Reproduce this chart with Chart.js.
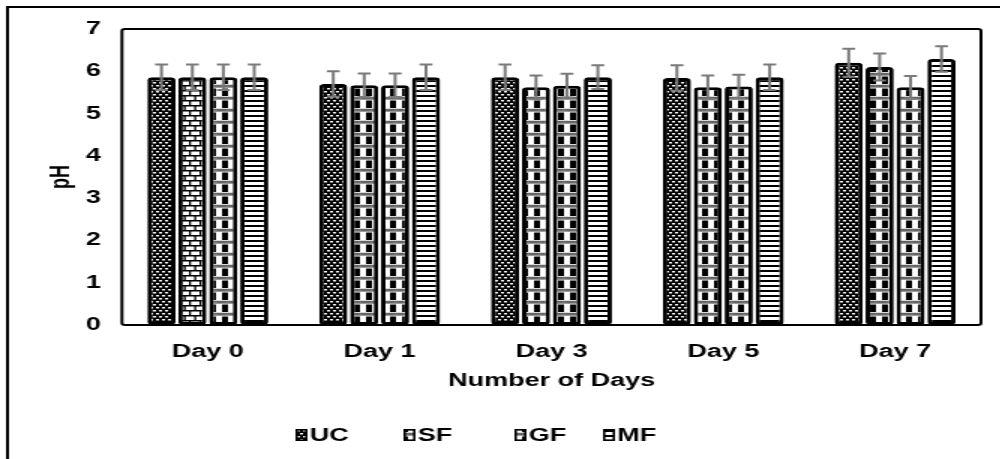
<!DOCTYPE html>
<html>
<head>
<meta charset="utf-8">
<script src="https://cdn.jsdelivr.net/npm/chart.js@4/dist/chart.umd.min.js"></script>
<style>
  html, body { margin: 0; padding: 0; background: #fff; overflow: hidden; }
  /* the figure is drawn narrow and widened 1.5x, as in the published graphic */
  #wrap { width: 667px; height: 459px; transform: scaleX(1.5); transform-origin: 0 0; }
</style>
</head>
<body>
<div id="wrap"><canvas id="c" width="667" height="459"></canvas></div>
<script>
// pH over storage days for four treatments
const days = ['Day 0', 'Day 1', 'Day 3', 'Day 5', 'Day 7'];
const seriesNames = ['UC', 'SF', 'GF', 'MF'];
const ucValues = [5.86, 5.70, 5.86, 5.84, 6.20];
const sfValues = [5.86, 5.67, 5.62, 5.62, 6.10];
const gfValues = [5.86, 5.67, 5.66, 5.64, 5.62];
const mfValues = [5.86, 5.86, 5.86, 5.86, 6.29];
const ucErrors = [0.30, 0.30, 0.30, 0.30, 0.33];
const sfErrors = [0.30, 0.28, 0.28, 0.28, 0.32];
const gfErrors = [0.30, 0.28, 0.28, 0.28, 0.27];
const mfErrors = [0.30, 0.30, 0.28, 0.30, 0.30];
const yTicks = [0, 1, 2, 3, 4, 5, 6, 7];

const FONT = '"Liberation Sans", Arial, sans-serif';

function makeTile(w, h, draw) {
  const t = document.createElement('canvas');
  t.width = w; t.height = h;
  const g = t.getContext('2d');
  draw(g);
  return document.getElementById('c').getContext('2d').createPattern(t, 'repeat');
}

// dark weave: black field with staggered white dashes
const weave = makeTile(4, 6, g => {
  g.fillStyle = '#000'; g.fillRect(0, 0, 4, 6);
  g.fillStyle = '#fff';
  g.fillRect(0, 1, 2, 1.5);
  g.fillRect(2, 4, 2, 1.5);
});
// brick
const brick = makeTile(7, 10, g => {
  g.fillStyle = '#fff'; g.fillRect(0, 0, 7, 10);
  g.fillStyle = '#000';
  g.fillRect(0, 0, 7, 1.5);
  g.fillRect(0, 5, 7, 1.5);
  g.fillRect(0, 0, 1.3, 5);
  g.fillRect(3.5, 5, 1.3, 5);
});
// blocks with bands of small loops
const loops = makeTile(8, 12, g => {
  g.fillStyle = '#fff'; g.fillRect(0, 0, 8, 12);
  g.fillStyle = '#000'; g.fillRect(4, 4.5, 4, 7.5);
  g.strokeStyle = '#333'; g.lineWidth = 0.9;
  for (let x = 1; x < 8; x += 2) {
    g.beginPath(); g.ellipse(x, 2.2, 0.8, 1.3, 0, 0, Math.PI * 2); g.stroke();
  }
});
// horizontal stripes
const stripes = makeTile(4, 5, g => {
  g.fillStyle = '#fff'; g.fillRect(0, 0, 4, 5);
  g.fillStyle = '#000'; g.fillRect(0, 0, 4, 2);
});

const legendFills = [weave, loops, loops, stripes];
const valueSets = [ucValues, sfValues, gfValues, mfValues];
const errorSets = [ucErrors, sfErrors, gfErrors, mfErrors];
const fills = [
  days.map(() => weave),
  days.map((d, i) => i === 0 ? brick : loops),
  days.map(() => loops),
  days.map(() => stripes)
];

const datasets = seriesNames.map((name, i) => ({
  label: name,
  data: valueSets[i],
  errors: errorSets[i],
  backgroundColor: fills[i],
  borderColor: '#000',
  borderWidth: 3,
  borderRadius: 3,
  borderSkipped: false,
  categoryPercentage: 0.72,
  barPercentage: 0.91
}));

const framePlugin = {
  id: 'frames',
  beforeDraw(chart) {
    const ctx = chart.ctx;
    ctx.save();
    ctx.strokeStyle = '#000';
    ctx.lineWidth = 2;
    ctx.strokeRect(5, 7, 1200, 1200);
    ctx.restore();
  },
  afterDatasetsDraw(chart) {
    const ctx = chart.ctx;
    const a = chart.chartArea;
    ctx.save();
    // plot area box
    ctx.strokeStyle = '#000';
    ctx.lineWidth = 2;
    ctx.beginPath();
    ctx.roundRect(a.left, a.top, a.right - a.left, a.bottom - a.top, 2);
    ctx.stroke();
    // error bars
    const ys = chart.scales.y;
    ctx.strokeStyle = '#7a7a7a';
    ctx.lineWidth = 2;
    chart.data.datasets.forEach((ds, i) => {
      chart.getDatasetMeta(i).data.forEach((bar, j) => {
        const v = ds.data[j], e = ds.errors[j];
        const yTop = ys.getPixelForValue(v + e);
        const yBot = ys.getPixelForValue(v - e);
        const x = bar.x;
        ctx.beginPath();
        ctx.moveTo(x, yTop); ctx.lineTo(x, yBot);
        ctx.moveTo(x - 4.3, yTop); ctx.lineTo(x + 4.3, yTop);
        ctx.moveTo(x - 4.3, yBot); ctx.lineTo(x + 4.3, yBot);
        ctx.stroke();
      });
    });
    ctx.restore();
  },
  afterDraw(chart) {
    // legend row
    const ctx = chart.ctx;
    const starts = [197, 269, 343, 402];
    const cy = 435;
    ctx.save();
    ctx.font = 'bold 18px ' + FONT;
    ctx.textBaseline = 'middle';
    chart.data.datasets.forEach((ds, i) => {
      const x = starts[i];
      ctx.fillStyle = legendFills[i];
      ctx.fillRect(x, cy - 6, 8, 12);
      ctx.strokeStyle = '#000';
      ctx.lineWidth = 1.6;
      ctx.strokeRect(x + 0.8, cy - 5.2, 6.4, 10.4);
      ctx.fillStyle = '#000';
      ctx.fillText(ds.label, x + 9.5, cy + 1);
    });
    ctx.restore();
  }
};

new Chart(document.getElementById('c'), {
  type: 'bar',
  data: { labels: days, datasets },
  options: {
    responsive: false,
    devicePixelRatio: 1,
    animation: false,
    layout: { padding: { top: 29, right: 13, bottom: 67, left: 0 } },
    plugins: { legend: { display: false }, tooltip: { enabled: false } },
    scales: {
      x: {
        grid: { display: false, drawTicks: false },
        border: { display: false },
        ticks: { color: '#000', font: { family: FONT, size: 18, weight: 'bold' }, padding: 16 },
        title: { display: true, text: 'Number of Days', color: '#000',
                 font: { family: FONT, size: 18, weight: 'bold' }, padding: { top: 0, bottom: 0 } },
        afterFit(s) { s.height = 67; }
      },
      y: {
        min: 0, max: 7,
        grid: { display: false, drawTicks: false },
        border: { display: false },
        afterBuildTicks(s) { s.ticks = yTicks.map(v => ({ value: v })); },
        ticks: { color: '#000', font: { family: FONT, size: 18, weight: 'bold' }, padding: 14 },
        title: { display: true, text: 'pH', color: '#000',
                 font: { family: FONT, size: 18, weight: 'bold' }, padding: { top: 30, bottom: 0 } },
        afterFit(s) { s.width = 81.3; }
      }
    }
  },
  plugins: [framePlugin]
});
</script>
</body>
</html>
